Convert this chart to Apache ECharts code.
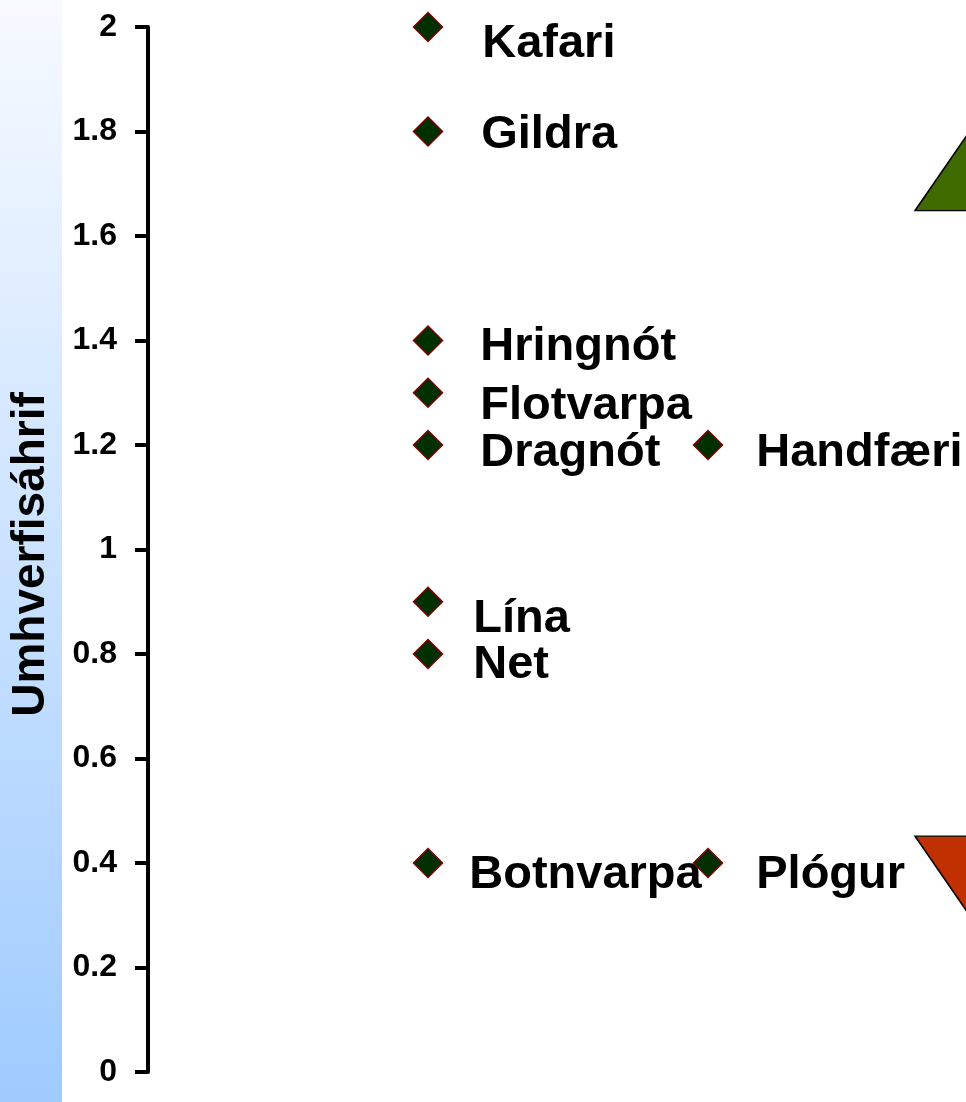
<!DOCTYPE html>
<html>
<head>
<meta charset="utf-8">
<style>
  html, body { margin: 0; padding: 0; background: #ffffff; }
  #chart { width: 966px; height: 1102px; }
</style>
<script src="https://cdn.jsdelivr.net/npm/echarts@6/dist/echarts.min.js"></script>
</head>
<body>
<div id="chart"></div>
<script>
// ---- data ----
const gearNames = ['Kafari', 'Gildra', 'Hringnót', 'Flotvarpa', 'Dragnót', 'Handfæri', 'Lína', 'Net', 'Botnvarpa', 'Plógur'];
const gearColumn = [1, 1, 1, 1, 1, 2, 1, 1, 1, 2];
const impactValues = [2.0, 1.8, 1.4, 1.3, 1.2, 1.2, 0.9, 0.8, 0.4, 0.4];
const upArrow = [[3, 1.75]];
const downArrow = [[3, 0.35]];
const axisTitle = 'Umhverfisáhrif';

// ---- label placement (style only) ----
const labelOffsets = [[39, 17], [38, 4], [37, 7], [37, 13], [37, 8], [33, 8], [30, 17], [30, 11], [26, 12], [33, 12]];

const FONT = '"Liberation Sans", Arial, Helvetica, sans-serif';

function pointsFor(col) {
  const out = [];
  gearNames.forEach((n, i) => {
    if (gearColumn[i] === col) {
      out.push({ name: n, value: [gearColumn[i], impactValues[i]], label: { offset: labelOffsets[i] } });
    }
  });
  return out;
}

const diamondSeries = (col, z) => ({
  type: 'scatter',
  symbol: 'diamond',
  symbolSize: 29,
  clip: false,
  itemStyle: { color: '#003000', borderColor: '#800000', borderWidth: 1.5, opacity: 1 },
  label: {
    show: true, position: 'right', distance: 0,
    formatter: '{b}',
    fontFamily: FONT, fontWeight: 'bold', fontSize: 47, color: '#000',
    align: 'left', verticalAlign: 'middle'
  },
  data: pointsFor(col),
  z: z
});

const chart = echarts.init(document.getElementById('chart'), null, { renderer: 'canvas' });

chart.setOption({
  backgroundColor: '#ffffff',
  animation: false,
  graphic: [{
    type: 'rect',
    left: 0, top: 0, z: -10,
    shape: { width: 62, height: 1102 },
    style: {
      fill: new echarts.graphic.LinearGradient(0, 0, 0, 1, [
        { offset: 0, color: '#f7faff' },
        { offset: 1, color: '#9fcbff' }
      ])
    },
    silent: true
  }],
  grid: { left: 148, top: 27, width: 840, bottom: 30, containLabel: false, outerBoundsMode: 'none' },
  xAxis: { type: 'value', min: 0, max: 3, show: false },
  yAxis: {
    type: 'value', min: 0, max: 2, interval: 0.2,
    name: axisTitle,
    nameLocation: 'middle',
    nameRotate: 90,
    nameGap: 94,
    nameTextStyle: { fontFamily: FONT, fontWeight: 'bold', fontSize: 46, color: '#000', padding: [0, 10, 0, 0] },
    axisLine: { show: true, lineStyle: { color: '#000', width: 4 } },
    axisTick: { show: true, length: 13, lineStyle: { color: '#000', width: 4 } },
    axisLabel: { margin: 31, fontFamily: FONT, fontWeight: 'bold', fontSize: 32, color: '#000', padding: [7, 0, 0, 0] },
    splitLine: { show: false }
  },
  series: [
    diamondSeries(1, 3),
    diamondSeries(2, 4),
    {
      type: 'scatter',
      symbol: 'triangle',
      symbolSize: [146, 106],
      clip: false,
      itemStyle: { color: '#3f6a00', borderColor: '#000', borderWidth: 1.5, opacity: 1 },
      data: upArrow,
      z: 2
    }, {
      type: 'scatter',
      symbol: 'triangle',
      symbolSize: [146, 106],
      symbolRotate: 180,
      clip: false,
      itemStyle: { color: '#c03000', borderColor: '#000', borderWidth: 1.5, opacity: 1 },
      data: downArrow,
      z: 2
    }
  ]
});
</script>
</body>
</html>
